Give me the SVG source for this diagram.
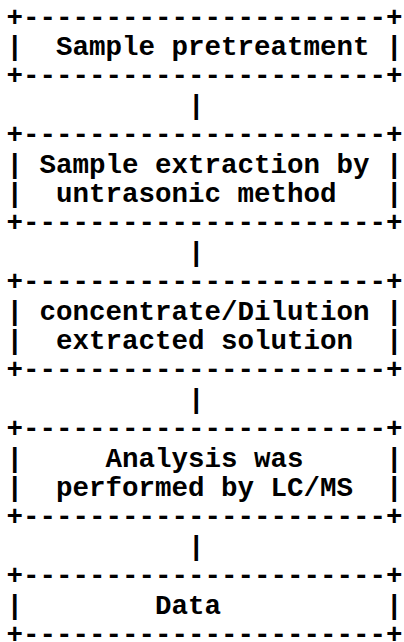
<svg xmlns="http://www.w3.org/2000/svg" width="404" height="642" viewBox="0 0 404 642" xml:space="preserve">
<style>
text{font-family:"Courier New","Liberation Mono","DejaVu Sans Mono",monospace;font-weight:bold;font-size:27.5px;fill:#000;white-space:pre}
</style>
<rect width="404" height="642" fill="#fff"/>
<g id="node-pretreatment">
<text x="6.5" y="25.5">+----------------------+</text>
<text x="6.5" y="54.9">|  Sample pretreatment |</text>
<text x="6.5" y="84.3">+----------------------+</text>
</g>
<g id="node-extraction">
<text x="6.5" y="143.1">+----------------------+</text>
<text x="6.5" y="172.5">| Sample extraction by |</text>
<text x="6.5" y="201.9">|  untrasonic method   |</text>
<text x="6.5" y="231.3">+----------------------+</text>
</g>
<g id="node-concentrate">
<text x="6.5" y="290.1">+----------------------+</text>
<text x="6.5" y="319.5">| concentrate/Dilution |</text>
<text x="6.5" y="348.9">|  extracted solution  |</text>
<text x="6.5" y="378.3">+----------------------+</text>
</g>
<g id="node-analysis">
<text x="6.5" y="437.1">+----------------------+</text>
<text x="6.5" y="466.5">|     Analysis was     |</text>
<text x="6.5" y="495.9">|  performed by LC/MS  |</text>
<text x="6.5" y="525.3">+----------------------+</text>
</g>
<g id="node-data">
<text x="6.5" y="584.1">+----------------------+</text>
<text x="6.5" y="613.5">|        Data          |</text>
<text x="6.5" y="642.9">+----------------------+</text>
</g>
<g id="connectors">
<text x="6.5" y="113.7">           |</text>
<text x="6.5" y="260.7">           |</text>
<text x="6.5" y="407.7">           |</text>
<text x="6.5" y="554.7">           |</text>
</g>
</svg>
